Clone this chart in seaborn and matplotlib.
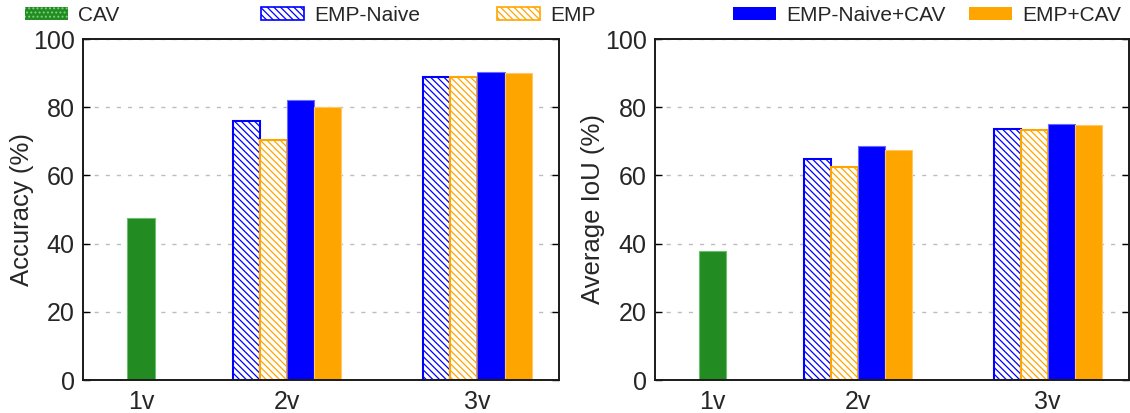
import numpy as np
import pandas as pd
import matplotlib
matplotlib.use("Agg")
import matplotlib.pyplot as plt
from matplotlib.patches import Patch
import seaborn as sns

# ---------------- data ----------------
groups = ["1v", "2v", "3v"]
series = ["CAV", "EMP-Naive", "EMP", "EMP-Naive+CAV", "EMP+CAV"]

acc_cav = [47.4, None, None]
acc_emp_naive = [None, 76.0, 88.9]
acc_emp = [None, 70.3, 88.8]
acc_naive_cav = [None, 82.0, 90.4]
acc_emp_cav = [None, 80.0, 89.9]

iou_cav = [37.9, None, None]
iou_emp_naive = [None, 64.8, 73.5]
iou_emp = [None, 62.6, 73.4]
iou_naive_cav = [None, 68.5, 75.0]
iou_emp_cav = [None, 67.5, 74.8]

y_ticks = [0, 20, 40, 60, 80, 100]

# ---------------- layout (positions, not data) ----------------
group_base = [2.13, 5.0, 12.0]
slot = [0, 1, 2, 3, 4]
group_center = [2.13, 7.5, 14.5]

styles = {
    "CAV": dict(face="#228B22", edge="#6cbf6c", hatch=None, lw=0.8),
    "EMP-Naive": dict(face="white", edge="#0000FF", hatch="\\" * 5, lw=1.5),
    "EMP": dict(face="white", edge="#FFA500", hatch="\\" * 5, lw=1.5),
    "EMP-Naive+CAV": dict(face="#0000FF", edge="#6a6aff", hatch=None, lw=0.8),
    "EMP+CAV": dict(face="#FFA500", edge="#ffc766", hatch=None, lw=0.8),
}


def make_df(values):
    rows = []
    for s, vals in zip(series, values):
        for gi, v in enumerate(vals):
            if v is None:
                continue
            off = 0 if s == "CAV" else slot[series.index(s)]
            rows.append({"pos": group_base[gi] + off, "value": v, "series": s})
    return pd.DataFrame(rows)


acc_df = make_df([acc_cav, acc_emp_naive, acc_emp, acc_naive_cav, acc_emp_cav])
iou_df = make_df([iou_cav, iou_emp_naive, iou_emp, iou_naive_cav, iou_emp_cav])

sns.set_style("white")
plt.rcParams["font.family"] = ["Liberation Sans", "DejaVu Sans"]
plt.rcParams["hatch.linewidth"] = 0.9

fig = plt.figure(figsize=(11.3, 4.13), dpi=100)
W, H = 1130, 413
ax1 = fig.add_axes([83 / W, (H - 380) / H, 476 / W, 341 / H])
ax2 = fig.add_axes([655 / W, (H - 380) / H, 474 / W, 341 / H])

palette = {s: styles[s]["face"] for s in series}


def draw(ax, df, ylabel, labelpad):
    sns.barplot(data=df, x="pos", y="value", hue="series", hue_order=series,
                palette=palette, native_scale=True, dodge=False, width=1.0,
                errorbar=None, saturation=1, legend=False, ax=ax)
    for s, cont in zip(series, ax.containers):
        st = styles[s]
        for p in cont.patches:
            p.set_facecolor(st["face"])
            p.set_edgecolor(st["edge"])
            p.set_linewidth(st["lw"])
            if st["hatch"]:
                p.set_hatch(st["hatch"])
    ax.set_xlim(0, 17.5)
    ax.set_ylim(0, 100)
    ax.set_yticks(y_ticks)
    ax.set_xticks(group_center)
    ax.set_xticklabels(groups)
    ax.set_xlabel("")
    ax.set_ylabel(ylabel, fontsize=18.5, labelpad=labelpad)
    ax.yaxis.grid(True, linestyle=(0, (3, 5)), color="#bdbdbd", linewidth=1)
    ax.xaxis.grid(False)
    ax.set_axisbelow(True)
    ax.tick_params(axis="y", direction="in", left=True, right=True, length=5,
                   width=1, labelsize=18, pad=6, color="black")
    ax.tick_params(axis="x", length=0, labelsize=18, pad=7)
    for sp in ax.spines.values():
        sp.set_visible(True)
        sp.set_color("#1a1a1a")
        sp.set_linewidth(1.4)


draw(ax1, acc_df, "Accuracy (%)", -1)
draw(ax2, iou_df, "Average IoU (%)", -0.5)

# legend: evenly spaced entries across the top
leg_handles = [
    Patch(facecolor="#228B22", edgecolor="#7dd37d", hatch="....", linewidth=0),
    Patch(facecolor="white", edgecolor="#0000FF", hatch="\\" * 5, linewidth=1.2),
    Patch(facecolor="white", edgecolor="#FFA500", hatch="\\" * 5, linewidth=1.2),
    Patch(facecolor="#0000FF", edgecolor="#0000FF", linewidth=0),
    Patch(facecolor="#FFA500", edgecolor="#FFA500", linewidth=0),
]
for i, (h, lab) in enumerate(zip(leg_handles, series)):
    x0 = (25 + i * 236) / W
    fig.legend(handles=[h], labels=[lab], loc="upper left",
               bbox_to_anchor=(x0, 1 - 6 / H), frameon=False, fontsize=15,
               borderpad=0, borderaxespad=0, handlelength=2.05,
               handleheight=0.55, handletextpad=0.5)

fig.savefig("out.png", dpi=100)
